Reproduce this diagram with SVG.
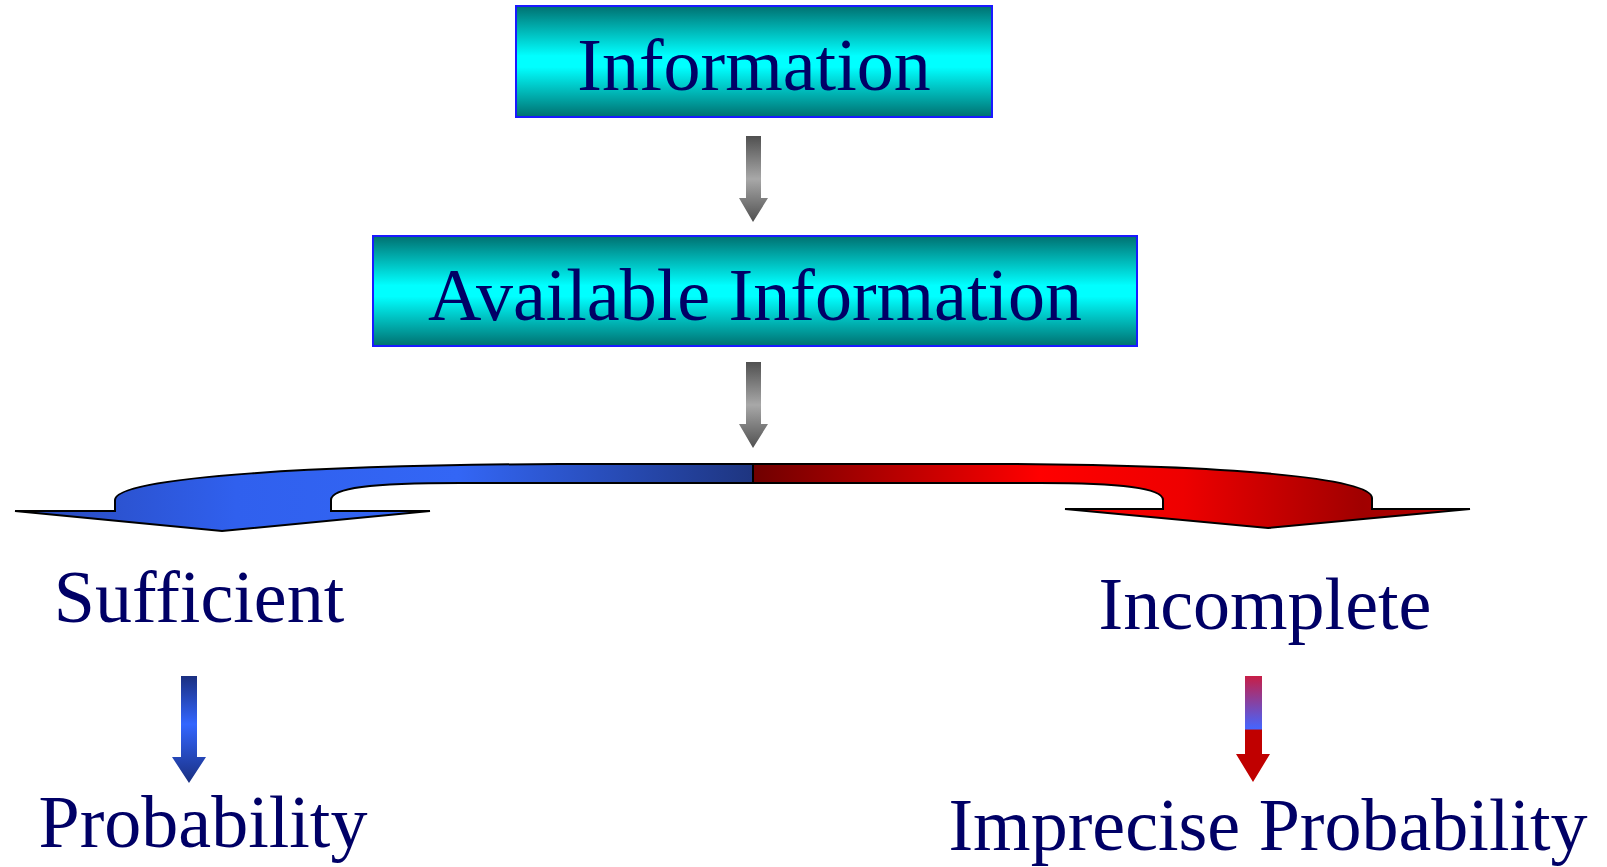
<svg xmlns="http://www.w3.org/2000/svg" width="1607" height="867" viewBox="0 0 1607 867">
<defs>
<linearGradient id="boxGrad" x1="0" y1="0" x2="0" y2="1">
<stop offset="0" stop-color="#007070"/>
<stop offset="0.45" stop-color="#00ffff"/>
<stop offset="0.55" stop-color="#00ffff"/>
<stop offset="1" stop-color="#007070"/>
</linearGradient>
<linearGradient id="grayGrad" x1="0" y1="0" x2="0" y2="1">
<stop offset="0" stop-color="#505050"/>
<stop offset="0.5" stop-color="#a8a8a8"/>
<stop offset="1" stop-color="#505050"/>
</linearGradient>
<linearGradient id="blueGrad" gradientUnits="userSpaceOnUse" x1="753" y1="0" x2="15" y2="0">
<stop offset="0" stop-color="#1e3580"/>
<stop offset="0.4" stop-color="#3366f5"/>
<stop offset="0.7" stop-color="#3060ee"/>
<stop offset="1" stop-color="#2848b8"/>
</linearGradient>
<linearGradient id="redGrad" gradientUnits="userSpaceOnUse" x1="753" y1="0" x2="1470" y2="0">
<stop offset="0" stop-color="#700000"/>
<stop offset="0.4" stop-color="#ff0000"/>
<stop offset="0.6" stop-color="#ee0000"/>
<stop offset="0.85" stop-color="#a00000"/>
<stop offset="1" stop-color="#c00000"/>
</linearGradient>
<linearGradient id="smallBlue" x1="0" y1="0" x2="0" y2="1">
<stop offset="0" stop-color="#1a2f80"/>
<stop offset="0.45" stop-color="#3366ff"/>
<stop offset="1" stop-color="#1a2f80"/>
</linearGradient>
<linearGradient id="smallRed" gradientUnits="userSpaceOnUse" x1="0" y1="676" x2="0" y2="782">
<stop offset="0" stop-color="#c81e46"/>
<stop offset="0.5" stop-color="#4466ff"/>
<stop offset="0.51" stop-color="#c00000"/>
<stop offset="1" stop-color="#c00000"/>
</linearGradient>
<style>
.box{fill:url(#boxGrad);stroke:#1a1aff;stroke-width:2}
.t{font-family:"Liberation Serif","Times New Roman",serif;font-size:74px;fill:#000066;text-anchor:middle}
.big{stroke:#000;stroke-width:2;stroke-linejoin:miter}
</style>
</defs>
<g id="node-information">
<rect class="box" x="516" y="6" width="476" height="111"/>
<text class="t" x="754" y="90">Information</text>
</g>
<g id="node-available">
<rect class="box" x="373" y="236" width="764" height="110"/>
<text class="t" x="755" y="320">Available Information</text>
</g>
<g id="node-sufficient">
<text class="t" x="199" y="622">Sufficient</text>
</g>
<g id="node-incomplete">
<text class="t" x="1265" y="629">Incomplete</text>
</g>
<g id="node-probability">
<text class="t" x="203" y="847">Probability</text>
</g>
<g id="node-imprecise">
<text class="t" x="1268" y="850">Imprecise Probability</text>
</g>
<g id="connectors">
<path d="M746,136 L761,136 L761,198 L768,198 L753,222 L739,198 L746,198 Z" fill="url(#grayGrad)"/>
<path d="M746,362 L761,362 L761,424 L768,424 L753,448 L739,424 L746,424 Z" fill="url(#grayGrad)"/>
<path class="big" fill="url(#blueGrad)" d="M753,464 L560,464 C330,465 115,476 115,500 L115,511 L15,511 L222,531 L430,511 L331,511 L331,500 C331,488 370,483 460,483 L753,483 Z"/>
<path class="big" fill="url(#redGrad)" d="M753,464 L1000,464 C1230,465 1372,478 1372,498 L1372,509 L1470,509 L1268,528 L1065,509 L1163,509 L1163,500 C1163,488 1120,483 1040,483 L753,483 Z"/>
<path d="M181,676 L197,676 L197,757 L206,757 L189,783 L172,757 L181,757 Z" fill="url(#smallBlue)"/>
<path d="M1245,676 L1262,676 L1262,754 L1270,754 L1253,782 L1236,754 L1245,754 Z" fill="url(#smallRed)"/>
</g>
</svg>
